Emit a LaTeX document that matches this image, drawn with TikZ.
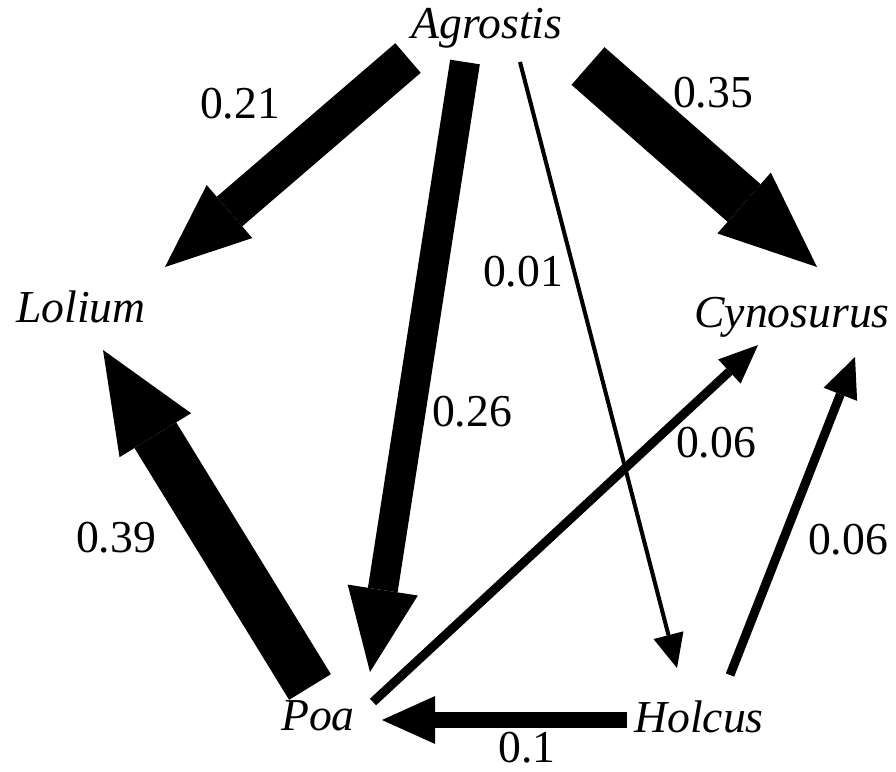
\documentclass[tikz,border=0pt]{standalone}
\usepackage{fontspec}
\setmainfont{Liberation Serif}
\usepackage{tikz}
\usetikzlibrary{arrows.meta, calc}

\begin{document}
\begin{tikzpicture}[
      x=0.02cm, y=-0.02cm,
      species/.style={anchor=base, inner sep=0pt, font=\fontsize{26}{30}\selectfont\itshape},
      rate/.style={inner sep=0pt, font=\fontsize{26}{30}\selectfont},
      flow/.style n args={3}{line width=#1, line cap=butt,
                  -{Triangle[length=#2, width=#3, line width=0pt]}}
    ]
    \useasboundingbox (0,0) rectangle (896,771);

    % Species
    \node[species] (ag)  at (487,38)  {Agrostis};
    \node[species] (lo)  at (81,322)  {Lolium};
    \node[species] (cy)  at (792,327) {Cynosurus};
    \node[species] (poa) at (318,730) {Poa};
    \node[species] (ho)  at (699,732) {Holcus};

    % Flows
    \draw[flow={22.2pt}{48.4pt}{39.8pt}] ($(ag.base)+(-79,20)$)  -- ($(lo.base)+(84,-55)$);
    \draw[flow={17.1pt}{47.2pt}{40.4pt}] ($(ag.base)+(-22,24)$)  -- ($(poa.base)+(52,-58)$);
    \draw[flow={2.3pt}{19.3pt}{17.6pt}]  ($(ag.base)+(33,24)$)   -- ($(ho.base)+(-22,-64)$);
    \draw[flow={28.5pt}{55.2pt}{46.1pt}] ($(ag.base)+(101,28)$)  -- ($(cy.base)+(25,-60)$);
    \draw[flow={27.9pt}{56.9pt}{47.8pt}] ($(poa.base)+(-8,-43)$) -- ($(lo.base)+(22,28)$);
    \draw[flow={5.1pt}{22.2pt}{18.8pt}]  ($(poa.base)+(55,-28)$) -- ($(cy.base)+(-34,18)$);
    \draw[flow={5.1pt}{22.8pt}{20.5pt}]  ($(ho.base)+(31,-57)$)  -- ($(cy.base)+(63,30)$);
    \draw[flow={9.1pt}{30.2pt}{27.3pt}]  ($(ho.base)+(-72,-12)$) -- ($(poa.base)+(64,-10)$);

    % Rates
    \node[rate] (r-ag-lo)  at (240,104) {0.21};
    \node[rate] (r-ag-cy)  at (713,93)  {0.35};
    \node[rate] (r-ag-ho)  at (523,272) {0.01};
    \node[rate] (r-ag-poa) at (472,412) {0.26};
    \node[rate] (r-poa-cy) at (716,443) {0.06};
    \node[rate] (r-ho-cy)  at (848,540) {0.06};
    \node[rate] (r-poa-lo) at (116,538) {0.39};
    \node[rate] (r-ho-poa) at (527,748) {0.1};
  \end{tikzpicture}
\end{document}
